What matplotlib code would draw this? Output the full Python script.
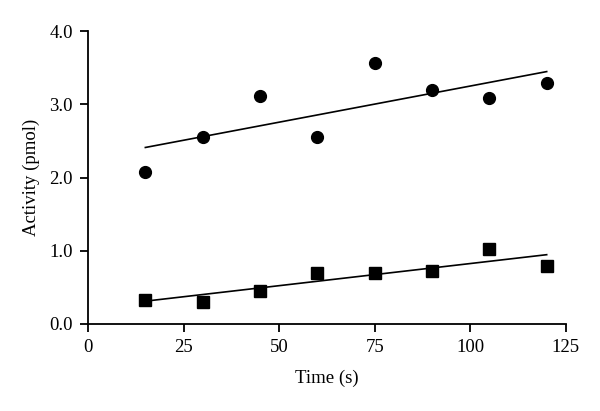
import matplotlib
matplotlib.use("Agg")
import matplotlib.pyplot as plt
import numpy as np

time_s = [15, 30, 45, 60, 75, 90, 105, 120]
activity_circles = [2.08, 2.55, 3.11, 2.55, 3.57, 3.20, 3.09, 3.29]
activity_squares = [0.33, 0.30, 0.45, 0.70, 0.70, 0.72, 1.02, 0.79]

plt.rcParams['font.family'] = ['Liberation Serif', 'DejaVu Serif']

fig = plt.figure(figsize=(6, 4.11), dpi=100)
ax = fig.add_axes([0.1467, 0.2124, 0.7963, 0.7114])

x = np.array(time_s)
for vals, mk in [(activity_circles, 'o'), (activity_squares, 's')]:
    ax.plot(x, vals, linestyle='none', marker=mk, color='black', markersize=8.5)
    slope, icpt = np.polyfit(x, vals, 1)
    xx = np.array([x.min(), x.max()])
    ax.plot(xx, slope * xx + icpt, color='black', linewidth=1.2)

ax.set_xlim(0, 125)
ax.set_ylim(0, 4.0)
ax.set_xticks([0, 25, 50, 75, 100, 125])
ax.set_yticks([0, 1, 2, 3, 4])
ax.set_yticklabels(['0.0', '1.0', '2.0', '3.0', '4.0'])
for s in ['top', 'right']:
    ax.spines[s].set_visible(False)
for s in ['left', 'bottom']:
    ax.spines[s].set_linewidth(1.3)
ax.tick_params(direction='out', length=6, width=1.3, labelsize=13.5, pad=5)
ax.set_xlabel('Time (s)', fontsize=13.5, labelpad=10)
ax.set_ylabel('Activity (pmol)', fontsize=13.5, labelpad=7)

fig.savefig('out.png', dpi=100)
